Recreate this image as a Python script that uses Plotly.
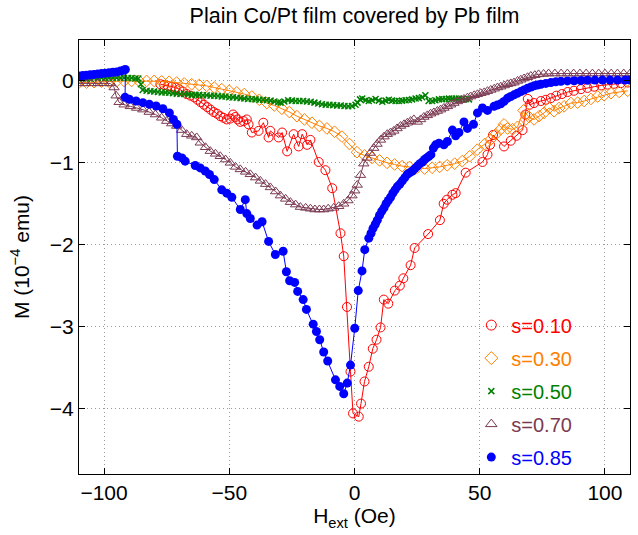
import plotly.graph_objects as go

# Magnetization loops M(H) of a plain Co/Pt film covered by a Pb film,
# one branch per value of s.

labels = ["s=0.10", "s=0.30", "s=0.50", "s=0.70", "s=0.85"]
colors = ["#FF0000", "#FF8000", "#008000", "#7B3A52", "#0000FF"]

h_s10 = [-77.5, -76.0, -74.5, -73.0, -71.5, -70.0, -68.5, -67.0, -65.5, -64.0,
         -62.7, -61.4, -60.1, -58.8, -57.5, -56.2, -54.9, -53.6, -52.3, -51.0,
         -49.7, -48.5, -47.6, -46.7, -45.6, -44.3, -43.0, -42.3, -41.0, -38.3,
         -36.4, -34.3, -33.6, -30.3, -28.9, -26.9, -24.3, -22.3, -20.9, -18.9,
         -17.6, -14.3, -11.6, -8.9, -5.6, -4.3, -3.0, -1.6, -0.6, 1.7,
         2.6, 4.0, 5.7, 7.3, 8.8, 10.4, 11.7, 13.5, 16.1, 18.1,
         19.5, 22.4, 24.0, 29.4, 34.1, 35.6, 36.9, 39.1, 40.4, 44.4,
         51.1, 53.1, 54.1, 55.3, 59.7, 62.4, 64.7, 67.1, 68.2, 69.2,
         69.9, 71.7, 74.4, 76.4, 78.4, 80.6, 82.8, 85.1, 87.6, 90.4,
         93.0, 95.7, 98.5, 101.0, 103.6, 106.3, 109.1]
m_s10 = [-0.04, -0.05, -0.06, -0.07, -0.08, -0.10, -0.13, -0.16, -0.18, -0.20,
         -0.23, -0.26, -0.29, -0.32, -0.35, -0.38, -0.40, -0.43, -0.45, -0.47,
         -0.46, -0.41, -0.44, -0.47, -0.50, -0.49, -0.47, -0.53, -0.63, -0.61,
         -0.51, -0.69, -0.61, -0.69, -0.63, -0.86, -0.65, -0.80, -0.65, -0.78,
         -0.72, -0.99, -1.09, -1.31, -1.86, -2.14, -2.76, -3.55, -4.06, -4.10,
         -3.94, -3.67, -3.49, -3.27, -3.16, -3.01, -2.67, -2.72, -2.56, -2.50,
         -2.41, -2.25, -2.04, -1.87, -1.70, -1.50, -1.45, -1.39, -1.37, -1.12,
         -0.99, -0.90, -0.78, -0.66, -0.80, -0.73, -0.67, -0.60, -0.41, -0.22,
         -0.29, -0.27, -0.245, -0.23, -0.21, -0.18, -0.16, -0.135, -0.12, -0.10,
         -0.085, -0.07, -0.055, -0.045, -0.035, -0.027, -0.02]

h_s30 = [-110, -107, -104, -101, -98, -95, -92, -89, -86, -83,
         -80, -77, -74, -71, -68, -65, -62, -59, -56, -53,
         -50, -47, -44, -41, -38, -35, -32, -29, -26, -23,
         -20, -17, -14, -11, -8, -5, -2, 1, 4, 7,
         10, 13, 16, 19, 22, 25, 28, 31, 34, 37,
         40, 43, 46, 49, 52, 54.4, 56.4, 58.4, 59.7, 61.1,
         63.1, 65.1, 67.5, 68.4, 69.7, 71.7, 73.7, 75.7, 77.7, 79.7,
         81.7, 83.7, 86.4, 89.1, 91.7, 94.4, 97.1, 99.7, 102.4, 105.7,
         109.1]
m_s30 = [-0.02, -0.02, -0.015, -0.01, -0.01, -0.005, 0.0, 0.0, 0.0, 0.0,
         0.0, -0.005, -0.01, -0.02, -0.03, -0.04, -0.05, -0.06, -0.08, -0.10,
         -0.12, -0.14, -0.16, -0.19, -0.23, -0.27, -0.30, -0.34, -0.38, -0.43,
         -0.47, -0.51, -0.55, -0.58, -0.62, -0.68, -0.77, -0.87, -0.91, -0.94,
         -0.97, -1.00, -1.02, -1.04, -1.05, -1.06, -1.07, -1.06, -1.05, -1.03,
         -1.01, -0.98, -0.92, -0.84, -0.77, -0.715, -0.65, -0.59, -0.53, -0.58,
         -0.59, -0.56, -0.36, -0.47, -0.44, -0.47, -0.43, -0.39, -0.33, -0.37,
         -0.33, -0.31, -0.27, -0.265, -0.245, -0.22, -0.19, -0.175, -0.15, -0.135,
         -0.12]

h_s50 = [-110, -108.5, -107, -105.5, -104, -102.5, -101, -99.5, -98, -96.5,
         -95, -93.5, -92, -90.5, -89, -87.5, -86.3, -85.3, -84.6, -83,
         -81.5, -80, -78.5, -77, -75.5, -74, -72.5, -71, -69.5, -68,
         -66.5, -65, -63.5, -62, -60.5, -59, -57.5, -56, -54.5, -53,
         -51.5, -50, -48.5, -47, -45.5, -44, -42.5, -41, -39.5, -38,
         -36.5, -35, -33.5, -32, -30.5, -29.5, -28, -26.5, -25, -23.5,
         -22, -20.5, -19, -17.5, -16, -14.5, -13, -11.5, -10, -8.5,
         -7, -5.5, -4, -2.5, -1, 0.4, 1.2, 2.2, 3.1, 4.5,
         5.7, 7.0, 8.4, 9.7, 11.1, 12.4, 13.7, 15.0, 16.4, 17.7,
         19.0, 20.4, 21.7, 23.0, 24.4, 25.7, 27.0, 28.3, 29.6, 31.0,
         32.3, 33.7, 35.0, 36.4, 37.7, 39.0, 40.4, 41.7, 43.0, 44.4,
         45.7]
m_s50 = [0.03, 0.03, 0.03, 0.03, 0.035, 0.035, 0.04, 0.04, 0.04, 0.04,
         0.04, 0.04, 0.04, 0.035, 0.035, 0.03, 0.03, -0.04, -0.11, -0.12,
         -0.125, -0.13, -0.135, -0.14, -0.14, -0.145, -0.15, -0.155, -0.16, -0.16,
         -0.165, -0.17, -0.17, -0.17, -0.175, -0.175, -0.18, -0.18, -0.185, -0.19,
         -0.19, -0.20, -0.20, -0.205, -0.21, -0.215, -0.22, -0.22, -0.225, -0.23,
         -0.23, -0.235, -0.24, -0.25, -0.26, -0.265, -0.25, -0.235, -0.24, -0.245,
         -0.245, -0.245, -0.25, -0.255, -0.265, -0.275, -0.285, -0.29, -0.29, -0.295,
         -0.30, -0.30, -0.305, -0.31, -0.305, -0.29, -0.265, -0.225, -0.215, -0.235,
         -0.245, -0.235, -0.22, -0.24, -0.255, -0.24, -0.23, -0.24, -0.245, -0.245,
         -0.24, -0.235, -0.232, -0.225, -0.215, -0.21, -0.20, -0.175, -0.245, -0.245,
         -0.235, -0.225, -0.222, -0.22, -0.216, -0.216, -0.215, -0.216, -0.22, -0.224,
         -0.225]

h_s70 = [-110, -107.5, -105, -102.5, -100, -97.5, -96.0, -95.2, -94.0, -92.0,
         -89.5, -87.0, -84.5, -82.0, -79.5, -77.0, -75.0, -73.0, -71.0, -69.0,
         -67.0, -65.0, -63.0, -61.6, -59.5, -57.6, -55.5, -53.6, -51.5, -49.6,
         -47.5, -45.6, -43.5, -41.6, -39.5, -37.6, -35.5, -33.6, -31.5, -29.6,
         -27.5, -25.6, -23.5, -21.6, -19.5, -17.6, -15.8, -14.0, -12.3, -10.5,
         -8.3, -6.3, -4.3, -2.6, -1.0, 0.1, 1.1, 2.4, 3.7, 5.0,
         6.3, 7.7, 9.0, 10.4, 11.8, 13.1, 14.4, 15.7, 17.0, 18.4,
         19.8, 21.1, 22.4, 23.7, 25.1, 26.4, 27.7, 29.1, 30.4, 31.7,
         33.1, 34.4, 35.7, 37.1, 38.4, 39.7, 41.1, 42.4, 43.7, 45.1,
         46.4, 47.8, 49.1, 50.4, 51.8, 53.1, 54.4, 55.8, 57.1, 58.4,
         59.8, 61.1, 62.4, 63.7, 65.1, 66.4, 67.7, 69.1, 70.4, 72.0,
         73.5, 75.5, 77.5, 80.0, 82.5, 85.0, 87.5, 90.0, 92.5, 95.0,
         97.5, 100.0, 102.5, 105.0, 107.5, 110.0]
m_s70 = [-0.03, -0.03, -0.03, -0.03, -0.03, -0.03, -0.08, -0.18, -0.26, -0.29,
         -0.31, -0.33, -0.35, -0.38, -0.41, -0.45, -0.49, -0.52, -0.55, -0.60,
         -0.65, -0.67, -0.69, -0.755, -0.81, -0.857, -0.89, -0.92, -0.96, -1.00,
         -1.05, -1.08, -1.11, -1.14, -1.18, -1.22, -1.26, -1.30, -1.35, -1.40,
         -1.44, -1.48, -1.51, -1.54, -1.55, -1.56, -1.57, -1.57, -1.57, -1.56,
         -1.55, -1.53, -1.50, -1.46, -1.40, -1.34, -1.27, -1.15, -1.01, -0.94,
         -0.88, -0.82, -0.77, -0.72, -0.68, -0.65, -0.63, -0.61, -0.58, -0.55,
         -0.53, -0.51, -0.49, -0.47, -0.50, -0.47, -0.44, -0.42, -0.40, -0.385,
         -0.367, -0.35, -0.33, -0.31, -0.29, -0.27, -0.25, -0.235, -0.22, -0.204,
         -0.19, -0.175, -0.163, -0.15, -0.14, -0.125, -0.11, -0.095, -0.08, -0.07,
         -0.055, -0.04, -0.03, -0.02, 0.0, 0.015, 0.03, 0.045, 0.06, 0.07,
         0.08, 0.085, 0.09, 0.09, 0.09, 0.09, 0.09, 0.09, 0.09, 0.09,
         0.09, 0.09, 0.09, 0.09, 0.09, 0.09]

h_s85 = [-110, -108.5, -107, -105.5, -104, -102.5, -101, -99.5, -98, -96.5,
         -95, -93.5, -92.2, -91.5, -91.6, -89.9, -87.2, -84.5, -81.9, -79.2,
         -76.5, -73.9, -72.3, -70.9, -70.7, -68.9, -67.6, -63.6, -61.6, -59.6,
         -57.9, -56.0, -53.0, -51.0, -49.0, -45.6, -43.6, -43.0, -41.6, -38.9,
         -36.9, -34.3, -31.6, -28.5, -27.2, -25.9, -23.9, -22.7, -20.5, -19.2,
         -16.5, -15.2, -13.9, -12.3, -10.7, -7.6, -5.9, -4.3, -2.9, -1.6,
         0.1, 1.5, 3.0, 4.1, 5.7, 6.6, 7.4, 8.3, 9.1, 10.0,
         10.9, 11.8, 12.6, 13.5, 14.4, 15.3, 16.2, 17.1, 18.1, 19.1,
         20.1, 21.1, 22.1, 23.1, 24.1, 25.1, 26.1, 27.1, 28.0, 28.8,
         29.7, 30.5, 31.5, 32.4, 33.7, 35.7, 37.1, 39.1, 40.4, 41.7,
         43.7, 45.1, 47.5, 49.1, 51.1, 53.1, 55.7, 57.0, 58.4, 59.7,
         61.1, 62.4, 63.7, 65.0, 66.4, 67.7, 69.1, 70.4, 71.7, 73.0,
         74.4, 76.4, 78.4, 80.4, 82.4, 85.0, 87.7, 90.4, 93.0, 96.0,
         99.0, 102.0, 105.0, 108.0, 110.0]
m_s85 = [0.06, 0.065, 0.07, 0.075, 0.08, 0.085, 0.09, 0.095, 0.10, 0.105,
         0.11, 0.12, 0.13, 0.14, -0.20, -0.224, -0.245, -0.265, -0.286, -0.306,
         -0.34, -0.39, -0.47, -0.53, -0.92, -0.94, -0.98, -1.033, -1.062, -1.10,
         -1.143, -1.205, -1.33, -1.37, -1.42, -1.57, -1.45, -1.62, -1.68, -1.76,
         -1.72, -1.96, -2.12, -2.08, -2.33, -2.44, -2.46, -2.57, -2.67, -2.79,
         -2.97, -3.06, -3.16, -3.31, -3.42, -3.65, -3.73, -3.82, -3.69, -3.47,
         -3.02, -2.56, -2.32, -2.06, -1.92, -1.86, -1.80, -1.75, -1.70, -1.64,
         -1.59, -1.55, -1.50, -1.46, -1.42, -1.37, -1.33, -1.29, -1.26, -1.22,
         -1.18, -1.14, -1.12, -1.10, -1.07, -1.04, -1.01, -0.99, -0.96, -0.94,
         -0.92, -0.90, -0.82, -0.78, -0.76, -0.78, -0.74, -0.60, -0.67, -0.63,
         -0.50, -0.58, -0.53, -0.39, -0.33, -0.36, -0.31, -0.295, -0.28, -0.25,
         -0.21, -0.19, -0.17, -0.15, -0.13, -0.11, -0.09, -0.075, -0.06, -0.05,
         -0.04, -0.03, -0.02, -0.01, -0.005, 0.0, 0.003, 0.006, 0.008, 0.01,
         0.01, 0.01, 0.01, 0.01, 0.01]

h_series = [h_s10, h_s30, h_s50, h_s70, h_s85]
m_series = [m_s10, m_s30, m_s50, m_s70, m_s85]

marker_styles = [
    dict(symbol="circle-open", size=9, line=dict(width=1)),
    dict(symbol="diamond-open", size=9, line=dict(width=1)),
    dict(symbol="x-thin-open", size=6, line=dict(width=1.5)),
    dict(symbol="triangle-up-open", size=9, line=dict(width=1)),
    dict(symbol="circle", size=9, line=dict(width=0)),
]
legend_sizes = [10, 10, 6, 10, 9]

x_ticks = [-100, -50, 0, 50, 100]
y_ticks = [0, -1, -2, -3, -4]

FONT = "Arial, 'Liberation Sans', Helvetica, sans-serif"
FS = 21

fig = go.Figure()

for h, m, col, ms in zip(h_series, m_series, colors, marker_styles):
    mk = dict(ms, color=col)
    mk["line"] = dict(ms["line"], color=col)
    fig.add_trace(go.Scatter(
        x=h, y=m, mode="lines+markers",
        line=dict(color=col, width=1),
        marker=mk, showlegend=False, hoverinfo="skip",
    ))

# legend entries show the marker only, with text in the series colour
for i, (lab, col, ms, lsz) in enumerate(zip(labels, colors, marker_styles, legend_sizes)):
    mk = dict(ms, color=col, size=lsz)
    mk["line"] = dict(ms["line"], color=col)
    fig.add_trace(go.Scatter(
        x=[None], y=[None], mode="markers", marker=mk,
        name=f"<span style='color:{col}'>{lab}</span>",
        legendgroup=f"g{i}", showlegend=True,
    ))

axis_common = dict(
    showline=True, linecolor="black", linewidth=1, mirror="allticks",
    ticks="inside", ticklen=6, tickwidth=1, tickcolor="black",
    showgrid=True, gridcolor="#9a9a9a", gridwidth=1, griddash="1px,3px",
    zeroline=False, tickfont=dict(family=FONT, size=FS, color="black"),
)

fig.update_xaxes(
    range=[-110, 110], tickvals=x_ticks,
    title=dict(text="H<sub>ext</sub> (Oe)", font=dict(family=FONT, size=FS, color="black"), standoff=0),
    **axis_common,
)
fig.update_yaxes(
    range=[-4.8, 0.5], tickvals=y_ticks,
    title=dict(text="M (10<sup>−4</sup> emu)", font=dict(family=FONT, size=FS, color="black"), standoff=14),
    **axis_common,
)

fig.update_layout(
    width=638, height=535,
    margin=dict(l=79, r=8, t=40, b=61),
    paper_bgcolor="white", plot_bgcolor="white",
    font=dict(family=FONT, size=FS, color="black"),
    title=dict(text="Plain Co/Pt film covered by Pb film", x=0.5, xref="paper",
               y=1 - 15 / 535, yanchor="middle",
               font=dict(family=FONT, size=21.5, color="black")),
    legend=dict(x=0.712, xanchor="left", y=0.388, yanchor="top",
                bgcolor="rgba(0,0,0,0)", borderwidth=0,
                font=dict(family=FONT, size=20), tracegroupgap=4,
                itemsizing="trace"),
)

fig.write_html("out.html")
